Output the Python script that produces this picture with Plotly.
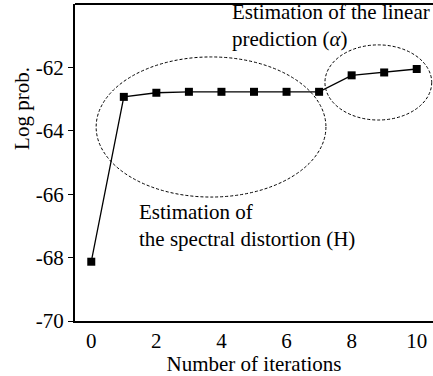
import plotly.graph_objects as go

iterations = [0, 1, 2, 3, 4, 5, 6, 7, 8, 9, 10]
log_prob = [-68.13, -62.93, -62.80, -62.77, -62.77, -62.77, -62.77, -62.77, -62.25, -62.16, -62.05]
x_ticks = [0, 2, 4, 6, 8, 10]
y_ticks = [-70, -68, -66, -64, -62]

FONT = "Liberation Serif"
FS = 21
tfont = dict(family=FONT, size=FS, color="black")

fig = go.Figure()
fig.add_trace(go.Scatter(
    x=iterations, y=log_prob, mode="lines+markers",
    line=dict(color="black", width=1.3),
    marker=dict(symbol="square", size=8, color="black"),
    showlegend=False,
))

# dashed ellipses
fig.add_shape(type="circle", xref="x", yref="y", x0=0.15, x1=7.21, y0=-66.09, y1=-61.67,
              line=dict(color="black", width=1, dash="3px,2px"))
fig.add_shape(type="circle", xref="x", yref="y", x0=7.18, x1=10.46, y0=-63.66, y1=-61.29,
              line=dict(color="black", width=1, dash="3px,2px"))

fig.add_annotation(x=4.25, y=-60.69, xref="x", yref="y", xanchor="left", yanchor="middle",
                   text="Estimation of the linear<br>prediction (<i>α</i>)", showarrow=False,
                   align="left", font=tfont)
fig.add_annotation(x=1.41, y=-66.99, xref="x", yref="y", xanchor="left", yanchor="middle",
                   text="Estimation of<br>the spectral distortion (H)", showarrow=False,
                   align="left", font=tfont)

# y-axis title placed as in the reference (upper part of the axis)
fig.add_annotation(x=-0.148, y=0.669, xref="paper", yref="paper", xanchor="center", yanchor="middle",
                   text="Log prob.", textangle=-90, showarrow=False, font=tfont)

fig.update_layout(
    width=433, height=376,
    margin=dict(l=75, r=0, t=4, b=55),
    paper_bgcolor="white", plot_bgcolor="white",
    font=tfont,
    xaxis=dict(range=[-0.5, 10.5], tickvals=x_ticks, ticktext=[str(v) for v in x_ticks],
               showgrid=False, zeroline=False, showline=True, linecolor="black", linewidth=2,
               mirror=False, ticks="",
               title=dict(text="Number of iterations", standoff=8, font=tfont),
               tickfont=tfont),
    yaxis=dict(range=[-70, -60], tickvals=y_ticks, ticktext=[str(v) for v in y_ticks],
               showgrid=False, zeroline=False, showline=True, linecolor="black", linewidth=2,
               ticks="outside", ticklen=5, tickcolor="black", tickwidth=1,
               tickfont=tfont),
)
# top border line
fig.add_shape(type="line", xref="paper", yref="paper", x0=0, x1=1, y0=1, y1=1,
              line=dict(color="black", width=2))

fig.write_html("out.html", config={"displayModeBar": False},
               post_script="document.body.style.margin='0';")
